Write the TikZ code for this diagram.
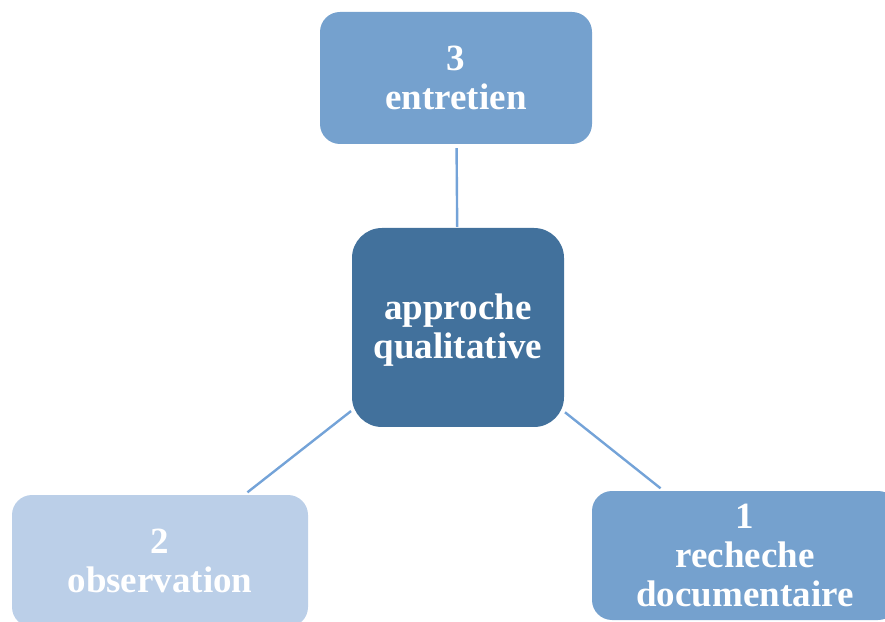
\documentclass[tikz,border=0pt]{standalone}
\usepackage{fontspec}
\setmainfont{Liberation Serif}
\begin{document}
\begin{tikzpicture}[x=1pt,y=1pt,
  box/.style={rounded corners=20pt, inner sep=0pt, align=center,
    text=white, font=\fontsize{37}{39}\selectfont\bfseries},
  hub/.style={box, rounded corners=30pt, fill=hubblue},
  link/.style={draw=linkblue, line width=2.4pt, shorten <=1pt, shorten >=4pt}]
\definecolor{hubblue}{HTML}{42719C}
\definecolor{midblue}{HTML}{75A1CE}
\definecolor{paleblue}{HTML}{BBCFE8}
\definecolor{linkblue}{HTML}{74A3D8}
\useasboundingbox (0,0) rectangle (885,621);
% central theme: the box, and its label set a little low
\node[hub, minimum width=212pt, minimum height=199pt] (c) at (458,293.5) {};
\node[box] (clabel) at ([yshift=-3pt]c.center) {approche\\qualitative};
% the three methods
\node[box, fill=midblue, minimum width=272pt, minimum height=132pt] (t) at (456,543) {3\\entretien};
\node[box, fill=paleblue, minimum width=296pt, minimum height=132pt] (l) at (160,60) {2\\observation};
\node[box, fill=midblue, minimum width=306pt, minimum height=129pt] (r) at (745,65.5) {1\\recheche\\documentaire};
% spokes
\draw[link] (c) -- (t);
\draw[link] (c) -- (l);
\draw[link] (c) -- (r);
\end{tikzpicture}
\end{document}
